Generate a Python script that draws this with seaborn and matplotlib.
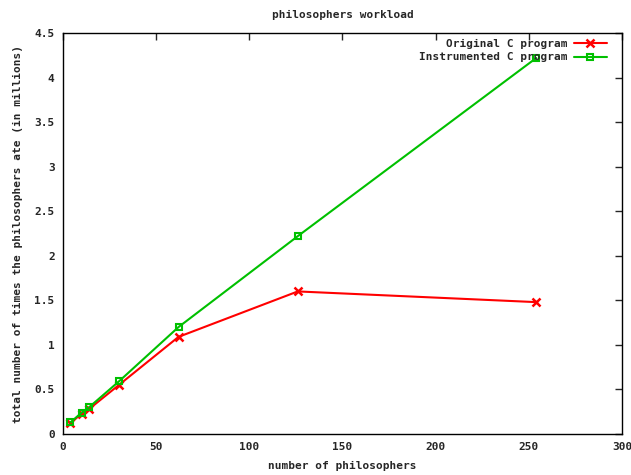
import numpy as np
import pandas as pd
import seaborn as sns
import matplotlib
matplotlib.use("Agg")
import matplotlib.pyplot as plt

philosophers = [4, 10, 14, 30, 62, 126, 254]
original = [0.12, 0.23, 0.28, 0.55, 1.09, 1.60, 1.48]
instrumented = [0.13, 0.24, 0.30, 0.59, 1.20, 2.22, 4.22]

sns.set_style("white")
plt.rcParams['font.family'] = ['DejaVu Sans Mono']
plt.rcParams['font.weight'] = 'bold'
plt.rcParams['font.size'] = 8

fig = plt.figure(figsize=(6.31, 4.75), dpi=100)
ax = fig.add_axes([0.0998, 0.0863, 0.8859, 0.8442])

red = '#ff0000'
green = '#00c000'

sns.lineplot(x=philosophers, y=original, ax=ax, color=red, lw=1.5,
             marker='x', markersize=6, markeredgewidth=1.8,
             markeredgecolor=red, label='Original C program')
sns.lineplot(x=philosophers, y=instrumented, ax=ax, color=green, lw=1.5,
             marker='s', markersize=5, markerfacecolor='none',
             markeredgecolor=green, markeredgewidth=1.5,
             label='Instrumented C program')

ax.set_xlim(0, 300)
ax.set_ylim(0, 4.5)
ax.set_xticks(np.arange(0, 301, 50))
ax.set_yticks(np.arange(0, 4.51, 0.5))
ax.set_yticklabels(['0', '0.5', '1', '1.5', '2', '2.5', '3', '3.5', '4', '4.5'])
ax.tick_params(direction='in', top=True, right=True, length=5, width=1,
               labelsize=8, pad=6)
for s in ax.spines.values():
    s.set_color('black')
    s.set_linewidth(1)

ax.set_xlabel('number of philosophers', fontweight='bold', labelpad=6)
ax.set_ylabel('total number of times the philosophers ate (in millions)',
              fontweight='bold', labelpad=8)
ax.set_title('philosophers workload', fontweight='bold', fontsize=8, pad=11)

leg = ax.legend(loc='upper right', frameon=False, markerfirst=False,
                bbox_to_anchor=(1 - 9 / 559, 1),
                handlelength=3, handletextpad=0.5, borderaxespad=0.15,
                labelspacing=0.3,
                prop={'family': 'DejaVu Sans Mono', 'weight': 'bold', 'size': 8})
for t in leg.get_texts():
    t.set_ha('right')

fig.savefig('out.png', dpi=100)
